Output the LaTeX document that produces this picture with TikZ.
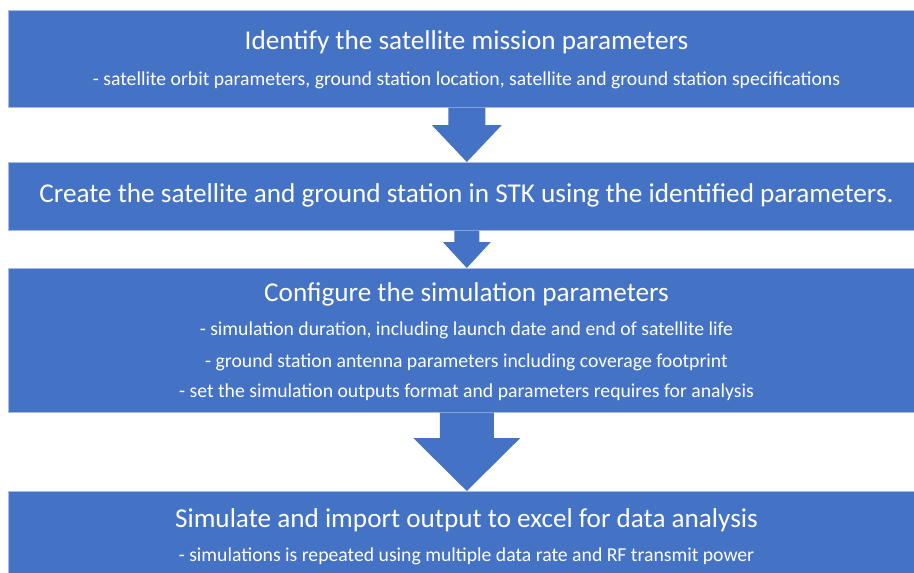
\documentclass[tikz,border=0pt]{standalone}
\usepackage{fontspec}
\setmainfont{Carlito}
\usetikzlibrary{calc}
\definecolor{officeblue}{HTML}{4472C4}
\definecolor{edgeblue}{HTML}{A9BCE3}

% block arrow from the bottom of one box to the top of the next
% #1 upper box, #2 lower box, #3 half shaft, #4 half head, #5 head length
\newcommand{\blockarrow}[5]{%
\fill[officeblue] let \p1 = (#1.south), \p2 = (#2.north) in
  (\x1-#3pt,\y1) -- (\x1+#3pt,\y1) -- (\x1+#3pt,\y2+#5pt) -- (\x1+#4pt,\y2+#5pt)
  -- (\x1,\y2) -- (\x1-#4pt,\y2+#5pt) -- (\x1-#3pt,\y2+#5pt) -- cycle;}

\begin{document}
\begin{tikzpicture}[x=1pt, y=-1pt, font=\fontsize{19.7}{24}\selectfont]
\tikzset{%
	stepbox/.style = {draw = edgeblue, line width = .6pt, fill = officeblue, rectangle, minimum width = 917pt, anchor = north west, inner sep = 0pt},
	title/.style = {text = white, anchor = base, inner sep = 0pt, font = \fontsize{27.2}{32}\selectfont},
	sub/.style = {text = white, anchor = base, inner sep = 0pt}
}
\useasboundingbox (0,0) rectangle (914,573);
\clip (0,0) rectangle (914,573);

% Boxes

\draw node at (8,10) [stepbox, minimum height = 97pt] (b1) {};
\draw node at (8,162) [stepbox, minimum height = 68pt] (b2) {};
\draw node at (8,268) [stepbox, minimum height = 144pt] (b3) {};
\draw node at (8,491) [stepbox, minimum height = 100pt] (b4) {};

% Texts

\draw node at (466.5,49) [title] (t1) {Identify the satellite mission parameters};
\draw node at (466.5,85) [sub] (s1) {- satellite orbit parameters, ground station location, satellite and ground station specifications};

\draw node at (466.5,202) [title] (t2) {Create the satellite and ground station in STK using the identified parameters.};

\draw node at (466.5,301) [title] (t3) {Configure the simulation parameters};
\draw node at (466.5,335) [sub] (s3a) {- simulation duration, including launch date and end of satellite life};
\draw node at (466.5,367) [sub] (s3b) {- ground station antenna parameters including coverage footprint};
\draw node at (466.5,397) [sub] (s3c) {- set the simulation outputs format and parameters requires for analysis};

\draw node at (466.5,527) [title] (t4) {Simulate and import output to excel for data analysis};
\draw node at (466.5,561) [sub] (s4) {- simulations is repeated using multiple data rate and RF transmit power};

% Arrows

\blockarrow{b1}{b2}{18.5}{35}{37}
\blockarrow{b2}{b3}{12.5}{24}{26}
\blockarrow{b3}{b4}{27}{53.5}{53}

\end{tikzpicture}
\end{document}
